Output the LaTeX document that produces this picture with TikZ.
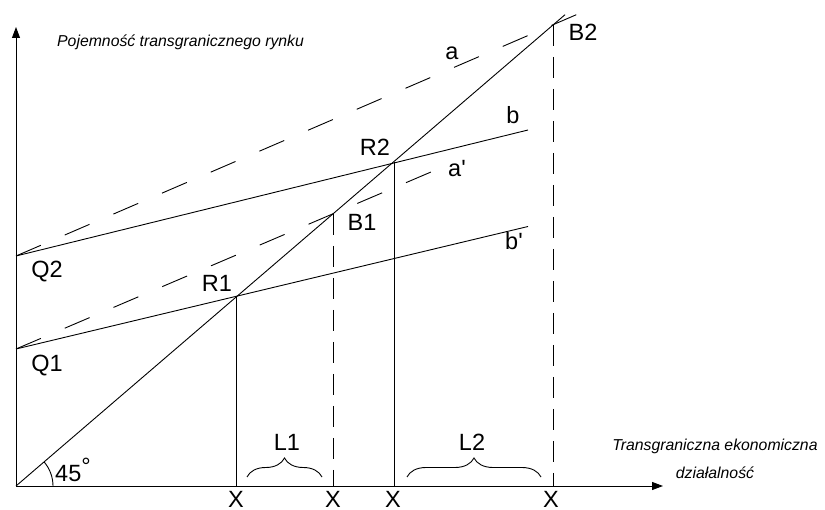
\documentclass[tikz,border=0pt]{standalone}
\usepackage{fontspec}
\setmainfont{Liberation Sans}
\newfontfamily\plainfont{Liberation Sans}
\usetikzlibrary{arrows.meta,decorations.pathreplacing}
\begin{document}
\begin{tikzpicture}[x=1pt,y=-1pt,
  ln/.style={line width=0.9pt,black},
  sdash/.style={ln,dash pattern=on 27pt off 26pt},
  vdash/.style={ln,dash pattern=on 21pt off 11pt},
  axis/.style={ln,-{Triangle[length=11pt,width=8pt]}},
  lbl/.style={font=\plainfont\fontsize{23.5}{26}\selectfont,inner sep=0pt},
  ttl/.style={font=\fontsize{15.8}{28}\selectfont\itshape,inner sep=0pt},
  brc/.style={ln,decorate,decoration={brace,amplitude=19pt}}]
\useasboundingbox (0,0) rectangle (825,510);
\coordinate (O) at (16,486);
\coordinate (Yt) at (16,27);
\coordinate (Xt) at (663,486);
\coordinate (Q1) at (16,349);
\coordinate (Q2) at (16,256);
\coordinate (R1) at (236,296.5);
\coordinate (B1) at (333,214);
\coordinate (R2) at (394,162);
\coordinate (B2) at (553,25);
\coordinate (E45) at (565,14.7);
\coordinate (Ea) at (578,14);
\coordinate (Eap) at (431,172);
\coordinate (Eb) at (528,130);
\coordinate (Ebp) at (528,226.5);
\coordinate (X1) at (236,486);
\coordinate (X2) at (333,486);
\coordinate (X3) at (394,486);
\coordinate (X4) at (553,486);
% axes
\draw[axis] (O) -- (Yt);
\draw[axis] (O) -- (Xt);
% 45 degree line
\draw[ln] (O) -- (E45);
% solid lines b, b'
\draw[ln] (Q2) -- (Eb);
\draw[ln] (Q1) -- (Ebp);
% dashed a, a'
\draw[sdash] (Q2) -- (Ea);
\draw[sdash] (Q1) -- (Eap);
% verticals
\draw[ln] (R1) -- (X1);
\draw[ln] (R2) -- (X3);
\draw[vdash] (B1) -- (X2);
\draw[vdash] (B2) -- (X4);
% angle arc
\draw[ln] (O) ++(37,0) arc[start angle=0,end angle=-40.6,radius=37];
% braces
\coordinate (L1a) at (247,477);
\coordinate (L1b) at (322,477);
\coordinate (L2a) at (407,477);
\coordinate (L2b) at (541,477);
\draw[brc] (L1a) -- (L1b);
\draw[brc] (L2a) -- (L2b);
% labels
\node[lbl] (la) at (452,53) {a};
\node[lbl] (lb) at (513,115) {b};
\node[lbl] (lB2) at (583,32) {B2};
\node[lbl] (lR2) at (375,147) {R2};
\node[lbl] (lap) at (457,169) {a'};
\node[lbl] (lB1) at (362,222) {B1};
\node[lbl] (lbp) at (514,241) {b'};
\node[lbl] (lQ2) at (47,272) {Q2};
\node[lbl] (lR1) at (217,283) {R1};
\node[lbl] (lQ1) at (47,366) {Q1};
\node[lbl,anchor=west] (l45) at (55,470) {45\raisebox{7pt}{°}};
\node[lbl] (lL1) at (287,442) {L1};
\node[lbl] (lL2) at (472,442) {L2};
\node[lbl] (x1) at (236,499) {X};
\node[lbl] (x2) at (333,499) {X};
\node[lbl] (x3) at (393,499) {X};
\node[lbl] (x4) at (551,499) {X};
\node[ttl,anchor=west] (ty) at (57,42) {Pojemność transgranicznego rynku};
\node[ttl,align=center] (tx) at (715,459) {Transgraniczna ekonomiczna\\działalność};
\end{tikzpicture}
\end{document}
